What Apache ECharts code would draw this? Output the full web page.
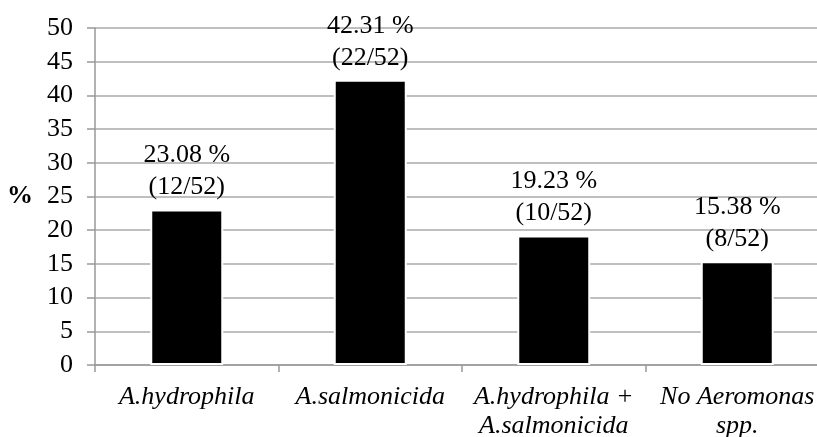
<!DOCTYPE html>
<html><head><meta charset="utf-8">
<script src="https://cdn.jsdelivr.net/npm/echarts@6/dist/echarts.min.js"></script>
<style>html,body{margin:0;padding:0;background:#fff}#c{width:817px;height:437px}</style>
</head><body><div id="c"></div>
<script>
const categories = ['A.hydrophila', 'A.salmonicida', 'A.hydrophila +\nA.salmonicida', 'No Aeromonas\nspp.'];
const percentValues = [23.08, 42.31, 19.23, 15.38];
const counts = [12, 22, 10, 8];
const total = 52;
const yTicks = [0, 5, 10, 15, 20, 25, 30, 35, 40, 45, 50];

const font = '"Liberation Serif", "Times New Roman", serif';
const chart = echarts.init(document.getElementById('c'));
chart.setOption({
  animation: false,
  grid: { left: 95, right: -12, top: 28, bottom: 72, outerBoundsMode: 'none', containLabel: false },
  xAxis: {
    type: 'category',
    data: categories,
    axisLine: { lineStyle: { color: '#999', width: 1.5 } },
    axisTick: { show: true, length: 7, lineStyle: { color: '#999', width: 1.5 } },
    axisLabel: { fontFamily: font, fontSize: 26, fontStyle: 'italic', color: '#000', margin: 18, lineHeight: 29, verticalAlign: 'top', interval: 0 }
  },
  yAxis: {
    type: 'value', min: yTicks[0], max: yTicks[yTicks.length - 1], interval: 5,
    name: '%', nameLocation: 'middle', nameRotate: 0, nameGap: 62,
    nameTextStyle: { fontFamily: font, fontSize: 26, fontWeight: 'bold', color: '#000' },
    axisLine: { show: true, lineStyle: { color: '#999', width: 1.5 } },
    axisTick: { show: true, length: 8, lineStyle: { color: '#999', width: 1.5 } },
    splitLine: { lineStyle: { color: '#aaa', width: 1.5 } },
    axisLabel: { fontFamily: font, fontSize: 26, color: '#000', margin: 22 }
  },
  series: [{
    type: 'bar',
    data: percentValues,
    barWidth: 73,
    itemStyle: { color: '#000', borderColor: '#fff', borderWidth: 2 },
    label: {
      show: true, position: 'top', distance: 6,
      fontFamily: font, fontSize: 26, color: '#000', lineHeight: 32,
      formatter: p => percentValues[p.dataIndex].toFixed(2) + ' %\n(' + counts[p.dataIndex] + '/' + total + ')'
    }
  }]
});
</script></body></html>
